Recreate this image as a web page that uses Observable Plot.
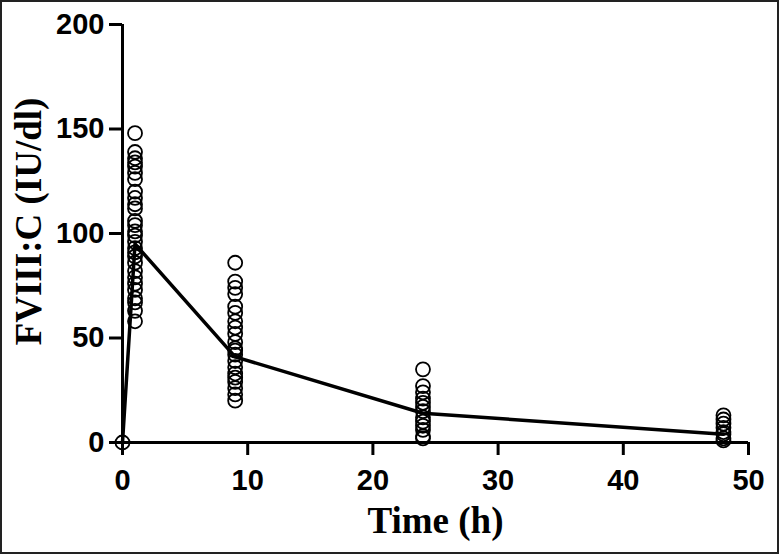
<!DOCTYPE html>
<html>
<head>
<meta charset="utf-8">
<script src="https://cdn.jsdelivr.net/npm/d3@7"></script>
<script src="https://cdn.jsdelivr.net/npm/@observablehq/plot@0.6"></script>
<style>
  html, body { margin: 0; padding: 0; background: #fff; }
  #chart svg { display: block; outline: 2px solid #222; outline-offset: -2px; }
</style>
</head>
<body>
<div id="chart"></div>
<script>
// Observed FVIII:C values (IU/dl) at each sampling time (h)
const times = [0, 1, 9, 24, 48];
const obs0 = [0];
const obs1 = [148, 139, 136, 134, 132, 129, 126, 120, 117, 114, 112, 106, 104, 101, 99, 96, 93, 91, 89, 86, 82, 79, 76, 73, 69, 67, 63, 58];
const obs9 = [86, 77, 74, 71, 65, 62, 58, 55, 52, 48, 45, 44, 42, 39, 36, 33, 31, 29, 26, 23, 20];
const obs24 = [35, 27, 24, 21, 19, 17, 15, 12, 10, 8, 6, 3, 2];
const obs48 = [13, 11, 9, 7, 5, 4, 2, 1];
// Mean concentration curve
const meanValues = [0, 95, 41, 14, 4];
const xTicks = [0, 10, 20, 30, 40, 50];
const yTicks = [0, 50, 100, 150, 200];

const groups = [obs0, obs1, obs9, obs24, obs48];
const points = groups.flatMap((vals, i) => vals.map(v => ({t: times[i], c: v})));
const meanLine = times.map((t, i) => ({t, c: meanValues[i]}));

const tickFont = "'Liberation Sans', Arial, sans-serif";
const labelFont = "'Liberation Serif', 'Times New Roman', serif";

const chart = Plot.plot({
  width: 779,
  height: 554,
  marginLeft: 122,
  marginRight: 31,
  marginTop: 24,
  marginBottom: 112,
  style: {fontFamily: tickFont, background: "#fff", color: "#000", overflow: "visible"},
  x: {domain: [0, 50]},
  y: {domain: [0, 200]},
  marks: [
    Plot.ruleX([0], {stroke: "#000", strokeWidth: 3}),
    Plot.ruleY([0], {stroke: "#000", strokeWidth: 3}),
    Plot.axisX({ticks: xTicks, tickSize: 13, tickPadding: 14, strokeWidth: 3, fontSize: 29, fontWeight: "bold",
      label: "Time (h)", labelAnchor: "center", labelArrow: "none", labelOffset: 90}),
    Plot.axisY({ticks: yTicks, tickSize: 13, tickPadding: 5, strokeWidth: 3, fontSize: 29, fontWeight: "bold",
      label: "FVIII:C (IU/dl)", labelAnchor: "center", labelArrow: "none", labelOffset: 108}),
    Plot.line(meanLine, {x: "t", y: "c", stroke: "#000", strokeWidth: 3.5}),
    Plot.dot(points, {x: "t", y: "c", r: 7, stroke: "#000", strokeWidth: 1.8, fill: "none"})
  ]
});

// style axis labels as bold serif
chart.querySelectorAll("[aria-label='x-axis label'] text, [aria-label='y-axis label'] text").forEach(t => {
  t.setAttribute("font-family", labelFont);
  t.setAttribute("font-size", 37);
  t.setAttribute("font-weight", "bold");
});
chart.querySelectorAll("[aria-label='y-axis label'] text").forEach(t => t.setAttribute("dx", 12));
document.getElementById("chart").appendChild(chart);
</script>
</body>
</html>
